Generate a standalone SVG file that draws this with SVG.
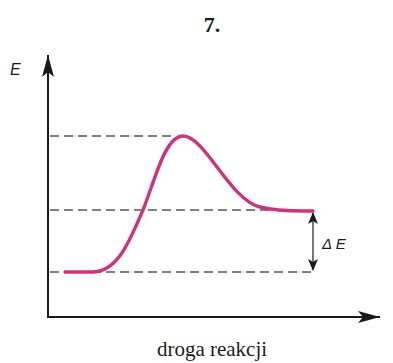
<svg xmlns="http://www.w3.org/2000/svg" width="393" height="363" viewBox="0 0 393 363">
<style>
.axis{stroke:#1a1a1a;stroke-width:2;fill:none}
.dash{stroke:#555;stroke-width:1.6;stroke-dasharray:9,5;fill:none}
.curve{stroke:#d2307a;stroke-width:3.4;fill:none;stroke-linecap:round}
.ser{font-family:"Liberation Serif",serif;fill:#1a1a1a}
.sans{font-family:"Liberation Sans",Arial,sans-serif;font-style:italic;fill:#1a1a1a}
</style>
<defs>
<marker id="ah" viewBox="0 0 12 10" refX="11" refY="5" markerWidth="12" markerHeight="10" markerUnits="userSpaceOnUse" orient="auto-start-reverse">
<path d="M0,0 L12,5 L0,10 L3,5 Z" fill="#1a1a1a"/>
</marker>
<marker id="big" viewBox="0 0 22 12" refX="22" refY="6" markerWidth="22" markerHeight="12" markerUnits="userSpaceOnUse" orient="auto">
<path d="M0,0 L22,6 L0,12 L5,6 Z" fill="#1a1a1a"/>
</marker>
</defs>
<text class="ser" x="212" y="32" font-size="22" font-weight="bold" text-anchor="middle">7.</text>
<g id="axes">
<path class="axis" d="M48,317 V55" marker-end="url(#big)"/>
<path class="axis" d="M47,317 H380" marker-end="url(#big)"/>
</g>
<text class="sans" x="10" y="75" font-size="16">E</text>
<g id="connectors">
<path class="dash" d="M50,136 H176"/>
<path class="dash" d="M50,210 H300"/>
<path class="dash" d="M50,272 H313"/>
<path d="M313,213 V270" stroke="#555" stroke-width="1.6" marker-start="url(#ah)" marker-end="url(#ah)"/>
</g>
<path class="curve" d="M65,272 L92,272 C118,272 130,240 143,210 C155,180 165,136 183,136 C205,136 230,200 260,207 C280,212 300,211 313,211"/>
<text class="sans" x="322" y="249" font-size="15">Δ E</text>
<text class="ser" x="212" y="356" font-size="21" text-anchor="middle">droga reakcji</text>
</svg>
